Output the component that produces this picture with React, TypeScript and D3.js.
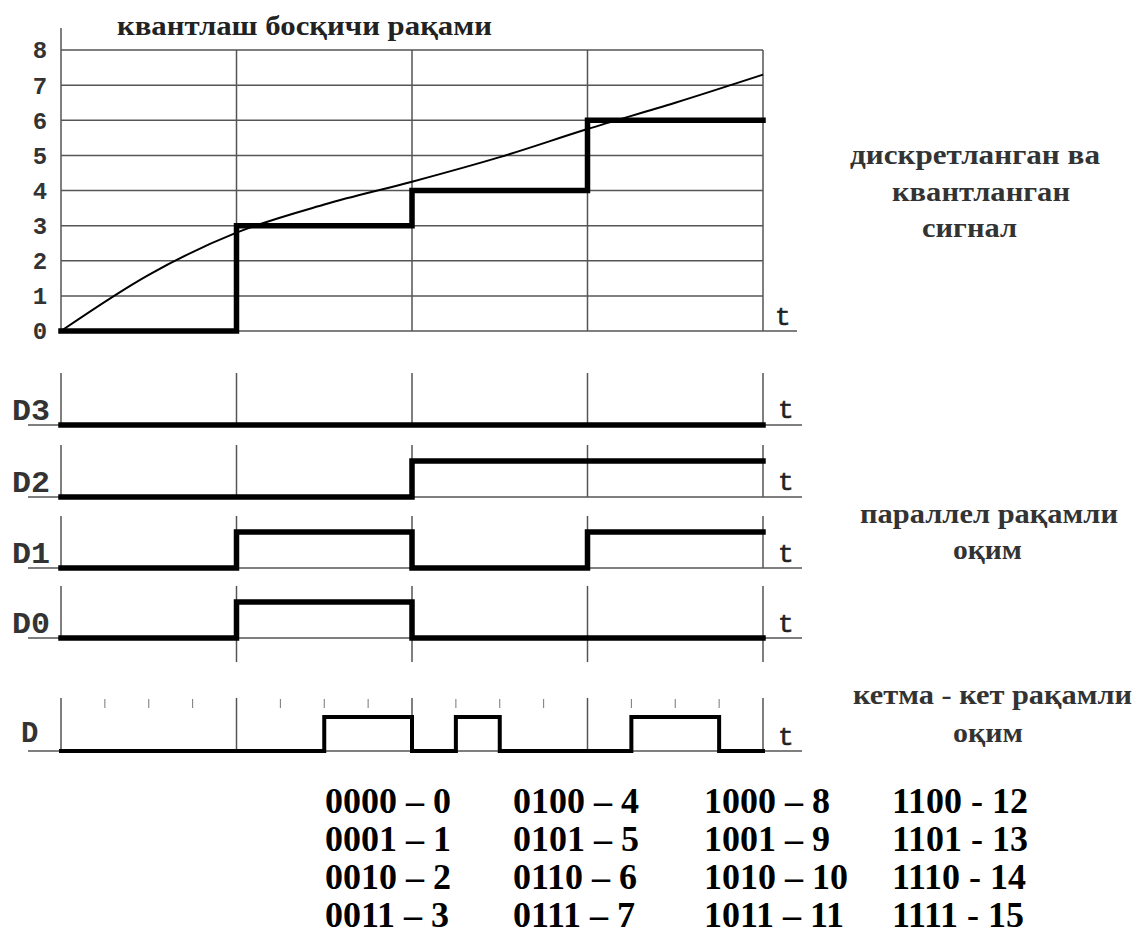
import React from "react";
import * as d3 from "d3";

// ---- data ----
const sampleTimes = [0, 1, 2, 3, 4];
const levelTicks = [0, 1, 2, 3, 4, 5, 6, 7, 8];
const analogT = [0, 0.5, 1, 1.5, 2, 2.5, 3, 3.5, 4];
const analogV = [0, 1.6, 2.8, 3.6, 4.25, 4.95, 5.75, 6.5, 7.3];
const quantLevels = [0, 3, 4, 6];
const bitNames = ["D3", "D2", "D1", "D0"];
const bitD3 = [0, 0, 0, 0];
const bitD2 = [0, 0, 1, 1];
const bitD1 = [0, 1, 0, 1];
const bitD0 = [0, 1, 0, 0];
const serialBits = [0, 0, 0, 0, 0, 0, 1, 1, 0, 1, 0, 0, 0, 1, 1, 0];
const codeCol1 = ["0000 – 0", "0001 – 1", "0010 – 2", "0011 – 3"];
const codeCol2 = ["0100 – 4", "0101 – 5", "0110 – 6", "0111 – 7"];
const codeCol3 = ["1000 – 8", "1001 – 9", "1010 – 10", "1011 – 11"];
const codeCol4 = ["1100 - 12", "1101 - 13", "1110 - 14", "1111 - 15"];
const titleText = "квантлаш босқичи рақами";

const W = 1139;
const H = 940;
const MONO = "'Liberation Mono', 'Courier New', monospace";
const SERIF = "'Liberation Serif', 'Times New Roman', serif";

export default function App() {
  const x = d3.scaleLinear().domain([0, 4]).range([61, 763]);
  const y = d3.scaleLinear().domain([0, 8]).range([331, 50]);

  const analogLine = d3
    .line<number>()
    .x((_, i) => x(analogT[i]))
    .y((v) => y(v))
    .curve(d3.curveMonotoneX)(analogV) as string;

  const stepPts: [number, number][] = quantLevels.map((v, i) => [sampleTimes[i], v]);
  stepPts.push([sampleTimes[4], quantLevels[quantLevels.length - 1]]);
  const stepLine = d3
    .line<[number, number]>()
    .x((d) => x(d[0]))
    .y((d) => y(d[1]))
    .curve(d3.curveStepAfter)(stepPts) as string;

  const panelBases = [425, 497, 568, 638];
  const panelBits = [bitD3, bitD2, bitD1, bitD0];
  const nameT = [418, 490, 562, 632];

  const serialBase = 751;
  const xs = d3.scaleLinear().domain([0, 16]).range([61, 763]);
  const ys = d3.scaleLinear().domain([0, 1]).range([serialBase, serialBase - 34]);
  const serialPts: [number, number][] = serialBits.map((b, i) => [i, b]);
  serialPts.push([16, serialBits[15]]);
  const serialLine = d3
    .line<[number, number]>()
    .x((d) => xs(d[0]))
    .y((d) => ys(d[1]))
    .curve(d3.curveStepAfter)(serialPts) as string;

  const gridColor = "#555";
  const cols = [codeCol1, codeCol2, codeCol3, codeCol4];
  const colX = [325, 513, 704, 892];
  const rowY = [813, 851, 889, 927];

  return (
    <svg width={W} height={H} style={{ display: "block", position: "absolute", left: 0, top: 0, background: "#fff" }}>
      <rect x={0} y={0} width={W} height={H} fill="#fff" />
      {/* title */}
      <text x={117} y={35} fontFamily={SERIF} fontWeight="bold" fontSize={27} fill="#222" textLength={375} lengthAdjust="spacingAndGlyphs">
        {titleText}
      </text>

      {/* top chart grid */}
      <line x1={x(0)} x2={x(0)} y1={28} y2={y(0)} stroke={gridColor} strokeWidth={1.5} />
      {levelTicks.map((v) => (
        <line key={"h" + v} x1={x(0)} x2={v === 0 ? 797 : x(4)} y1={y(v)} y2={y(v)} stroke={gridColor} strokeWidth={1.5} />
      ))}
      {sampleTimes.slice(1).map((t) => (
        <line key={"v" + t} x1={x(t)} x2={x(t)} y1={y(8)} y2={y(0)} stroke={gridColor} strokeWidth={1.5} />
      ))}
      {levelTicks.map((v) => (
        <text key={"l" + v} x={40} y={y(v)} dy="0.35em" textAnchor="middle" fontFamily={MONO} fontWeight="bold" fontSize={24} fill="#333">
          {v}
        </text>
      ))}
      <path d={analogLine} fill="none" stroke="#000" strokeWidth={2} />
      <path d={stepLine} fill="none" stroke="#000" strokeWidth={5.5} strokeLinejoin="miter" strokeLinecap="square" />
      <text x={775} y={325} fontFamily={MONO} fontSize={26} fill="#222" stroke="#222" strokeWidth={0.6}>t</text>

      {/* parallel bit panels */}
      {panelBits.map((bits, p) => {
        const base = panelBases[p];
        const yb = d3.scaleLinear().domain([0, 1]).range([base, base - 36]);
        const pts: [number, number][] = bits.map((b, i) => [sampleTimes[i], b]);
        pts.push([sampleTimes[4], bits[bits.length - 1]]);
        const d = d3
          .line<[number, number]>()
          .x((q) => x(q[0]))
          .y((q) => yb(q[1]))
          .curve(d3.curveStepAfter)(pts) as string;
        return (
          <g key={"p" + p}>
            <line x1={28} x2={802} y1={base} y2={base} stroke={gridColor} strokeWidth={1.5} />
            {sampleTimes.map((t) => (
              <line
                key={"pv" + t}
                x1={x(t)}
                x2={x(t)}
                y1={base - 52}
                y2={p === 3 && t > 0 ? base + 24 : base}
                stroke={gridColor}
                strokeWidth={1.5}
              />
            ))}
            <path d={d} fill="none" stroke="#000" strokeWidth={5.5} strokeLinejoin="miter" strokeLinecap="square" />
            <text x={12} y={base - 5} fontFamily={MONO} fontWeight="bold" fontSize={29} fill="#333" textLength={38} lengthAdjust="spacingAndGlyphs">
              {bitNames[p]}
            </text>
            <text x={778} y={nameT[p]} fontFamily={MONO} fontSize={26} fill="#222" stroke="#222" strokeWidth={0.6}>t</text>
          </g>
        );
      })}

      {/* serial stream */}
      <line x1={28} x2={802} y1={serialBase} y2={serialBase} stroke={gridColor} strokeWidth={1.5} />
      {sampleTimes.map((t) => (
        <line key={"sv" + t} x1={x(t)} x2={x(t)} y1={698} y2={serialBase} stroke={gridColor} strokeWidth={1.5} />
      ))}
      {d3.range(16).filter((i) => i % 4 !== 0).map((i) => (
        <line key={"st" + i} x1={xs(i)} x2={xs(i)} y1={699} y2={708} stroke="#777" strokeWidth={1} />
      ))}
      <path d={serialLine} fill="none" stroke="#000" strokeWidth={4} strokeLinejoin="miter" strokeLinecap="square" />
      <text x={21} y={742} fontFamily={MONO} fontWeight="bold" fontSize={29} fill="#333">D</text>
      <text x={778} y={745} fontFamily={MONO} fontSize={26} fill="#222" stroke="#222" strokeWidth={0.6}>t</text>

      {/* right-side captions */}
      <g fontFamily={SERIF} fontWeight="bold" fontSize={27} fill="#333">
        <text x={850} y={164} textLength={250} lengthAdjust="spacingAndGlyphs">дискретланган ва</text>
        <text x={892} y={201} textLength={178} lengthAdjust="spacingAndGlyphs">квантланган</text>
        <text x={922} y={237} textLength={95} lengthAdjust="spacingAndGlyphs">сигнал</text>
        <text x={860} y={523} textLength={258} lengthAdjust="spacingAndGlyphs">параллел рақамли</text>
        <text x={953} y={559} textLength={69} lengthAdjust="spacingAndGlyphs">оқим</text>
        <text x={853} y={704} textLength={279} lengthAdjust="spacingAndGlyphs">кетма - кет рақамли</text>
        <text x={953} y={742} textLength={70} lengthAdjust="spacingAndGlyphs">оқим</text>
      </g>

      {/* code table */}
      <g fontFamily={SERIF} fontWeight="bold" fontSize={36} fill="#000">
        {cols.map((col, c) =>
          col.map((s, r) => (
            <text key={"c" + c + r} x={colX[c]} y={rowY[r]}>
              {s}
            </text>
          ))
        )}
      </g>
    </svg>
  );
}
